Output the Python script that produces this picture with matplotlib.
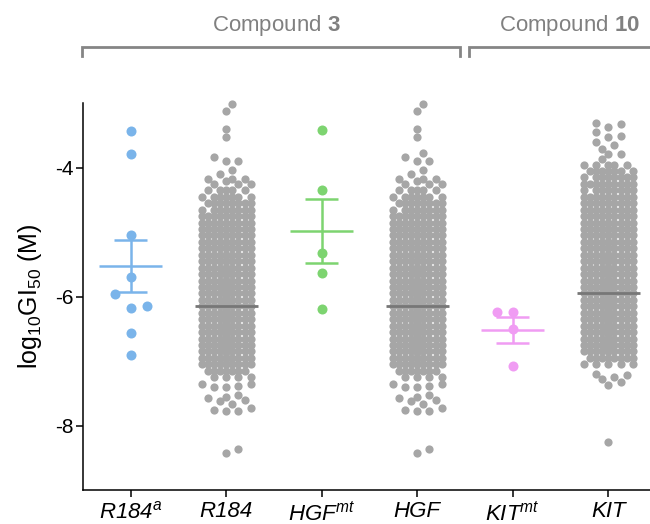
import numpy as np
import matplotlib
matplotlib.use("Agg")
import matplotlib.pyplot as plt
from matplotlib.transforms import blended_transform_factory

plt.rcParams['font.family'] = ['Liberation Sans', 'DejaVu Sans']
plt.rcParams['mathtext.fontset'] = 'custom'
plt.rcParams['mathtext.rm'] = 'Liberation Sans'
plt.rcParams['mathtext.it'] = 'Liberation Sans:italic'
plt.rcParams['mathtext.bf'] = 'Liberation Sans:bold'
plt.rcParams['mathtext.default'] = 'rm'
plt.rcParams['axes.unicode_minus'] = False

# ---------------- data ----------------
categories = ['R184$^{\\mathit{a}}$', 'R184', 'HGF$^{\\mathit{mt}}$', 'HGF',
              'KIT$^{\\mathit{mt}}$', 'KIT']
y_ticks = [-4, -6, -8]
group_labels = ['Compound $\\mathbf{3}$', 'Compound $\\mathbf{10}$']

# small coloured groups (log10 GI50)
r184a_values = [-6.17, -5.96, -6.14, -3.43, -3.78, -5.05, -5.70, -6.56, -6.91]
hgfmt_values = [-3.42, -4.34, -5.33, -5.64, -6.19]
kitmt_values = [-6.24, -6.24, -6.50, -7.08]

# large grey panels: individual tail points + dense core read as (level, count)
r184_tail = [-3.01, -3.12, -3.40, -3.53, -3.83, -3.89, -3.89, -4.04, -4.10,
             -4.17, -4.17, -4.17, -4.21,
             -7.35, -7.38, -7.40, -7.40, -7.36, -7.52, -7.58, -7.60, -7.62,
             -7.55, -7.66, -7.73, -7.78, -7.78, -7.76, -8.37, -8.43]
r184_core_levels = [-4.25, -4.35, -4.45, -4.55, -4.65, -4.75, -4.85, -4.95,
                    -5.05, -5.15, -5.25, -5.35, -5.45, -5.55, -5.65, -5.75,
                    -5.85, -5.95, -6.05, -6.15, -6.25, -6.35, -6.45, -6.55,
                    -6.65, -6.75, -6.85, -6.95, -7.05, -7.15, -7.25]
r184_core_counts = [3, 5, 7, 8, 8, 9, 9, 9, 10, 10, 10, 11, 11, 12, 13, 14,
                    16, 18, 20, 22, 24, 24, 23, 22, 20, 18, 16, 13, 10, 7, 4]

hgf_tail = [-3.01, -3.12, -3.40, -3.53, -3.77, -3.83, -3.89, -3.89, -4.04,
            -4.10, -4.17, -4.17, -4.17, -4.21,
            -7.35, -7.38, -7.40, -7.40, -7.36, -7.52, -7.58, -7.60, -7.62,
            -7.55, -7.66, -7.73, -7.78, -7.78, -7.76, -8.37, -8.43]
hgf_core_levels = [-4.25, -4.35, -4.45, -4.55, -4.65, -4.75, -4.85, -4.95,
                   -5.05, -5.15, -5.25, -5.35, -5.45, -5.55, -5.65, -5.75,
                   -5.85, -5.95, -6.05, -6.15, -6.25, -6.35, -6.45, -6.55,
                   -6.65, -6.75, -6.85, -6.95, -7.05, -7.15, -7.25]
hgf_core_counts = [3, 5, 7, 8, 8, 9, 9, 9, 10, 10, 10, 11, 11, 12, 13, 14,
                   16, 18, 20, 22, 24, 24, 23, 22, 20, 18, 16, 13, 10, 7, 4]

kit_tail = [-3.30, -3.32, -3.37, -3.45, -3.51, -3.52, -3.60, -3.65, -3.71,
            -3.78, -3.79, -3.87,
            -7.20, -7.25, -7.28, -7.33, -7.22, -7.37, -8.26]
kit_core_levels = [-3.95, -4.05, -4.15, -4.25, -4.35, -4.45, -4.55, -4.65,
                   -4.75, -4.85, -4.95, -5.05, -5.15, -5.25, -5.35, -5.45,
                   -5.55, -5.65, -5.75, -5.85, -5.95, -6.05, -6.15, -6.25,
                   -6.35, -6.45, -6.55, -6.65, -6.75, -6.85, -6.95, -7.05]
kit_core_counts = [5, 7, 8, 9, 8, 9, 9, 9, 9, 10, 10, 10, 11, 11, 12, 13,
                   14, 16, 18, 20, 23, 26, 27, 26, 25, 23, 20, 17, 14, 11, 8, 5]

# ---------------- figure ----------------
fig = plt.figure(figsize=(6.5, 5.24), dpi=100)
ax = fig.add_axes([0.127, 0.0649, 0.873, 0.738])
ax.set_xlim(-0.503, 5.437)
ax.set_ylim(-9.0, -3.0)

COL_BLUE = '#7ab4ea'
COL_GREEN = '#7dd470'
COL_PINK = '#f09cf3'
COL_GREY = '#a6a6a6'
COL_MED = '#777777'


def px_scales():
    p0 = ax.transData.transform((0, 0))
    p1 = ax.transData.transform((1, 1))
    return abs(p1[0] - p0[0]), abs(p1[1] - p0[1])


def swarm_offsets(values, step_px, min_px, nside, sort=True, first_sign=1):
    """Greedy beeswarm on a discrete grid of horizontal slots."""
    xs, ys = px_scales()
    vals = np.asarray(values, float)
    order = np.argsort(vals, kind='stable') if sort else np.arange(len(vals))
    cands = [0.0]
    for k in range(1, nside + 1):
        cands += [first_sign * k * step_px, -first_sign * k * step_px]
    px_x, px_y = [], []
    offs = np.zeros(len(vals))
    for i in order:
        y = vals[i] * ys
        if px_x:
            PX = np.array(px_x)
            PY = np.array(px_y)
        best_c, best_d = cands[0], -1.0
        for c in cands:
            if not px_x:
                md = np.inf
            else:
                md = np.hypot(PX - c, PY - y).min()
            if md >= min_px:
                best_c = c
                break
            if md > best_d + 1e-9:
                best_d, best_c = md, c
        px_x.append(best_c)
        px_y.append(y)
        offs[i] = best_c / xs
    return vals, offs


def expand(tail, levels, counts):
    return list(tail) + [lv for lv, n in zip(levels, counts) for _ in range(n)]


small_groups = [(0, r184a_values, COL_BLUE), (2, hgfmt_values, COL_GREEN),
                (4, kitmt_values, COL_PINK)]
big_groups = [(1, expand(r184_tail, r184_core_levels, r184_core_counts)),
              (3, expand(hgf_tail, hgf_core_levels, hgf_core_counts)),
              (5, expand(kit_tail, kit_core_levels, kit_core_counts))]

for pos, vals in big_groups:
    v, off = swarm_offsets(vals, 6.15, 8.0, 4, sort=True, first_sign=1)
    ax.scatter(pos + off, v, s=35, color=COL_GREY, linewidths=0,
               zorder=2, clip_on=False)
    med = np.median(v)
    ax.plot([pos - 0.33, pos + 0.33], [med, med], color=COL_MED, lw=2.0,
            zorder=4, solid_capstyle='butt')

for pos, vals, col in small_groups:
    v, off = swarm_offsets(vals, 16.0, 15.0, 2, sort=False, first_sign=-1)
    ax.scatter(pos + off, v, s=52, color=col, linewidths=0, zorder=3,
               clip_on=False)
    m = np.mean(v)
    sem = np.std(v, ddof=1) / np.sqrt(len(v))
    ax.plot([pos - 0.33, pos + 0.33], [m, m], color=col, lw=1.8, zorder=4,
            solid_capstyle='butt')
    ax.plot([pos, pos], [m - sem, m + sem], color=col, lw=1.8, zorder=4,
            solid_capstyle='butt')
    for yy in (m - sem, m + sem):
        ax.plot([pos - 0.17, pos + 0.17], [yy, yy], color=col, lw=1.8,
                zorder=4, solid_capstyle='butt')

# axes styling
for side in ('top', 'right'):
    ax.spines[side].set_visible(False)
for side in ('left', 'bottom'):
    ax.spines[side].set_linewidth(1.1)
ax.set_xticks(range(len(categories)))
ax.set_xticklabels(categories, fontsize=16, fontstyle='italic')
ax.set_yticks(y_ticks)
ax.set_yticklabels([str(t) for t in y_ticks], fontsize=15)
ax.tick_params(axis='x', length=5, width=1.1, pad=3)
ax.tick_params(axis='y', length=5, width=1.1, pad=1.5)
ax.set_ylabel('log$_{10}$GI$_{50}$ (M)', fontsize=18, labelpad=8)

# group brackets on top
tr = blended_transform_factory(ax.transData, fig.transFigure)
brackets = [(-0.51, 3.45), (3.54, 5.60)]
text_x = [1.53, 4.59]
y_line = 1 - 47 / 524
y_tick = 1 - 56 / 524
y_text = 1 - 25 / 524
for (x0, x1), tx, lab in zip(brackets, text_x, group_labels):
    ax.plot([x0, x0, x1, x1], [y_tick, y_line, y_line, y_tick], color='#858585',
            lw=2.0, transform=tr, clip_on=False, solid_joinstyle='miter')
    ax.text(tx, y_text, lab, transform=tr, ha='center', va='center',
            fontsize=16, color='#808080')

fig.savefig('out.png', dpi=100)
